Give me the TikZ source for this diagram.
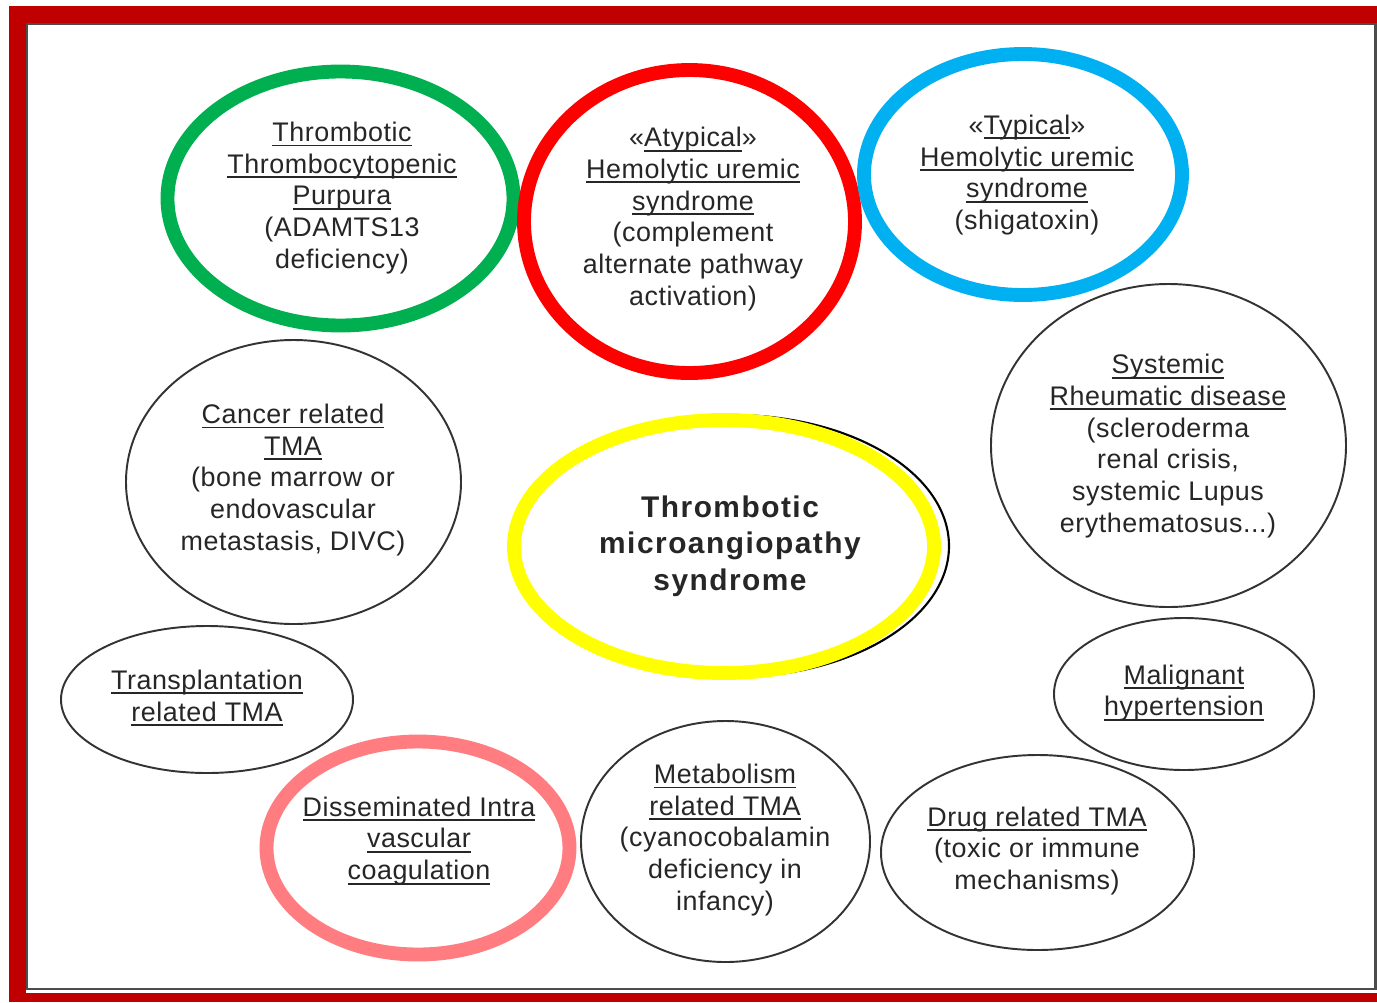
\documentclass[tikz,border=0pt]{standalone}
\usepackage{fontspec}
\setmainfont[LetterSpace=2]{Liberation Sans}

\definecolor{framered}{HTML}{C00000}
\definecolor{ttpgreen}{HTML}{00B050}
\definecolor{ahusred}{HTML}{FF0000}
\definecolor{stecblue}{HTML}{00B0F0}
\definecolor{tmayellow}{HTML}{FFFF00}
\definecolor{dicpink}{HTML}{FF7C80}

% underline at a fixed depth, whatever the descenders
\newsavebox{\ulinebox}
\newcommand{\uln}[1]{\sbox{\ulinebox}{#1}\rlap{\rule[-2.9pt]{\wd\ulinebox}{1.1pt}}\usebox{\ulinebox}}

\begin{document}
\begin{tikzpicture}[x=0.02cm,y=-0.02cm,
  disease/.style={align=center,text=black!85,inner sep=0pt,
    font=\fontsize{15.3}{18.1}\selectfont},
  thickring/.style={line width=7.9pt},
  thinring/.style={line width=1.1pt,black!80}]
  \useasboundingbox (0,0) rectangle (1377,1002);
  % frame
  \fill[framered] (9,6) rectangle (1377,1002);
  \fill[white] (26,23) rectangle (1377,993);
  \draw[gray!60!black,line width=1.2pt] (27,24) rectangle (1375.5,989);
  % coloured rings
  \draw[thickring,ttpgreen] (340.5,198.5) ellipse (173 and 127);
  \draw[thickring,ahusred] (689.5,221.5) ellipse (165.5 and 151.5);
  \draw[thickring,stecblue] (1023,174.5) ellipse (159 and 120.5);
  \draw[black,line width=1.2pt] (733,546) ellipse (216 and 131);
  \draw[thickring,tmayellow] (724,546.5) ellipse (210 and 126.5);
  \draw[thickring,dicpink] (418,848) ellipse (151.5 and 106.5);
  % plain rings
  \draw[thinring] (293.5,482) ellipse (167.5 and 142);
  \draw[thinring] (1168.5,445.5) ellipse (177.5 and 161.5);
  \draw[thinring] (207,699.5) ellipse (146 and 73.5);
  \draw[thinring] (1184,694) ellipse (130 and 76);
  \draw[thinring] (725.5,841.5) ellipse (144.5 and 120.5);
  \draw[thinring] (1037.5,852.5) ellipse (156.5 and 97.5);
  % texts
  \node[disease] (ttp) at (342,198) {\uln{Thrombotic}\\\uln{Thrombocytopenic}\\\uln{Purpura}\\(ADAMTS13\\deficiency)};
  \node[disease] (ahus) at (693,219) {«\uln{Atypical}»\\\uln{Hemolytic uremic}\\\uln{syndrome}\\(complement\\alternate pathway\\activation)};
  \node[disease] (stec) at (1027,175) {«\uln{Typical}»\\\uln{Hemolytic uremic}\\\uln{syndrome}\\(shigatoxin)};
  \node[disease] (cancer) at (293,480) {\uln{Cancer related}\\\uln{TMA}\\(bone marrow or\\endovascular\\metastasis, DIVC)};
  \node[disease,font=\fontsize{17}{20.8}\selectfont\bfseries\addfontfeatures{LetterSpace=5}] (tma) at (730,546) {Thrombotic\\microangiopathy\\syndrome};
  \node[disease] (rheum) at (1168,446) {\uln{Systemic}\\\uln{Rheumatic disease}\\(scleroderma\\renal crisis,\\systemic Lupus\\erythematosus...)};
  \node[disease] (transpl) at (207,698) {\uln{Transplantation}\\\uln{related TMA}};
  \node[disease] (htn) at (1184,693) {\uln{Malignant}\\\uln{hypertension}};
  \node[disease] (dic) at (419,841) {\uln{Disseminated Intra}\\\uln{vascular}\\\uln{coagulation}};
  \node[disease] (metab) at (725,840) {\uln{Metabolism}\\\uln{related TMA}\\(cyanocobalamin\\deficiency in\\infancy)};
  \node[disease] (drug) at (1037,851) {\uln{Drug related TMA}\\(toxic or immune\\mechanisms)};
\end{tikzpicture}
\end{document}
